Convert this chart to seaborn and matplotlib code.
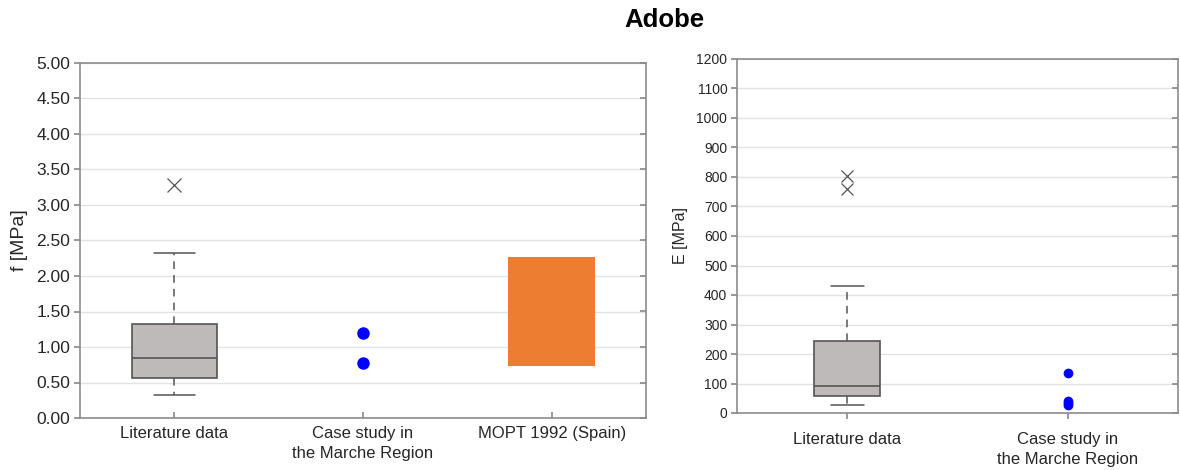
import matplotlib
matplotlib.use("Agg")
import matplotlib.pyplot as plt
import seaborn as sns
import pandas as pd

# ---- data -------------------------------------------------------------
f_categories = ["Literature data", "Case study in\nthe Marche Region", "MOPT 1992 (Spain)"]
E_categories = ["Literature data", "Case study in\nthe Marche Region"]

# compressive strength f [MPa], literature box statistics
f_lit_whislo, f_lit_q1, f_lit_med, f_lit_q3, f_lit_whishi = 0.32, 0.56, 0.85, 1.33, 2.33
f_lit_outliers = [3.28]
f_case_values = [1.20, 0.77]
f_mopt_range = [0.73, 2.27]

# elastic modulus E [MPa], literature box statistics
E_lit_whislo, E_lit_q1, E_lit_med, E_lit_q3, E_lit_whishi = 26, 59, 93, 243, 431
E_lit_outliers = [803, 758]
E_case_values = [135, 42, 34, 27]

# ---- styling ----------------------------------------------------------
sns.set_theme(style="white")
plt.rcParams["font.family"] = ["Liberation Sans", "DejaVu Sans"]

SPINE = "#8c8c8c"
GRID = "#e3e3e3"
TEXT = "#262626"
BOX_FILL = "#bfbaba"
BOX_EDGE = "#555555"
ORANGE = "#ed7d31"
BLUE = "#0000ff"

fig = plt.figure(figsize=(11.8, 4.7), dpi=100)
ax1 = fig.add_axes([80 / 1180, 1 - 418 / 470, 566 / 1180, 355 / 470])
ax2 = fig.add_axes([737 / 1180, 1 - 413 / 470, 441 / 1180, 354 / 470])

fig.text(664 / 1180, 1 - 20 / 470, "Adobe", ha="center", va="center",
         fontsize=18.5, fontweight="bold", color="black")


def box_stats(lo, q1, med, q3, hi, fliers):
    return dict(whislo=lo, q1=q1, med=med, q3=q3, whishi=hi, fliers=fliers)


def draw_box(ax, stats, width, capwidth, flier_size):
    ax.bxp([stats], positions=[0], widths=width, showfliers=True, patch_artist=True,
           capwidths=capwidth,
           boxprops=dict(facecolor=BOX_FILL, edgecolor=BOX_EDGE, linewidth=1.2),
           medianprops=dict(color=BOX_EDGE, linewidth=1.2),
           whiskerprops=dict(color=BOX_EDGE, linewidth=1.1, linestyle=(0, (5, 4))),
           capprops=dict(color=BOX_EDGE, linewidth=1.1),
           flierprops=dict(marker="x", markersize=flier_size, markeredgecolor="#555555",
                           markeredgewidth=0.9, linestyle="none"),
           manage_ticks=False, zorder=3)


def style_axes(ax, ylim, yticks, fmt, tick_fs, categories, cat_fs, xpad):
    ax.set_xlim(-0.5, len(categories) - 0.5)
    ax.set_ylim(*ylim)
    ax.set_yticks(yticks)
    ax.set_yticklabels([fmt.format(v) for v in yticks], fontsize=tick_fs, color=TEXT)
    ax.set_xticks(range(len(categories)))
    ax.set_xticklabels(categories, fontsize=cat_fs, color=TEXT, linespacing=1.4)
    ax.set_xlabel("")
    ax.grid(axis="y", color=GRID, linewidth=1.0, zorder=0)
    ax.set_axisbelow(True)
    for s in ax.spines.values():
        s.set_visible(True)
        s.set_color(SPINE)
        s.set_linewidth(1.2)
    ax.tick_params(axis="y", direction="out", length=4, color=SPINE, left=True, pad=3)
    ax.tick_params(axis="x", direction="in", length=4, color=SPINE, bottom=True, pad=xpad)
    # inward ticks along the right frame
    twin = ax.twinx()
    twin.set_ylim(*ylim)
    twin.set_yticks(yticks)
    twin.tick_params(axis="y", direction="in", length=4, color=SPINE, labelright=False)
    for s in twin.spines.values():
        s.set_visible(False)


# ---- left panel: f ----------------------------------------------------
draw_box(ax1, box_stats(f_lit_whislo, f_lit_q1, f_lit_med, f_lit_q3, f_lit_whishi,
                        f_lit_outliers), width=0.45, capwidth=0.22, flier_size=10)
f_case_df = pd.DataFrame({"cat": [f_categories[1]] * len(f_case_values), "f": f_case_values})
sns.stripplot(data=f_case_df, x="cat", y="f", order=f_categories, jitter=False,
              color=BLUE, size=9, linewidth=0, ax=ax1, zorder=4)
ax1.bar(2, f_mopt_range[1] - f_mopt_range[0], bottom=f_mopt_range[0], width=0.46,
        color=ORANGE, edgecolor="none", zorder=3)
style_axes(ax1, (0, 5), [i * 0.5 for i in range(11)], "{:.2f}", 12.5, f_categories, 12, 6)
ax1.set_ylabel("f [MPa]", fontsize=14, color=TEXT, labelpad=6)

# ---- right panel: E ---------------------------------------------------
draw_box(ax2, box_stats(E_lit_whislo, E_lit_q1, E_lit_med, E_lit_q3, E_lit_whishi,
                        E_lit_outliers), width=0.30, capwidth=0.15, flier_size=8)
E_case_df = pd.DataFrame({"cat": [E_categories[1]] * len(E_case_values), "E": E_case_values})
sns.stripplot(data=E_case_df, x="cat", y="E", order=E_categories, jitter=False,
              color=BLUE, size=7, linewidth=0, ax=ax2, zorder=4)
style_axes(ax2, (0, 1200), list(range(0, 1201, 100)), "{:d}", 10, E_categories, 12, 10)
ax2.set_ylabel("E [MPa]", fontsize=11.5, color=TEXT, labelpad=6)
ax2.tick_params(axis="x", direction="out")

fig.savefig("out.png", dpi=100)
